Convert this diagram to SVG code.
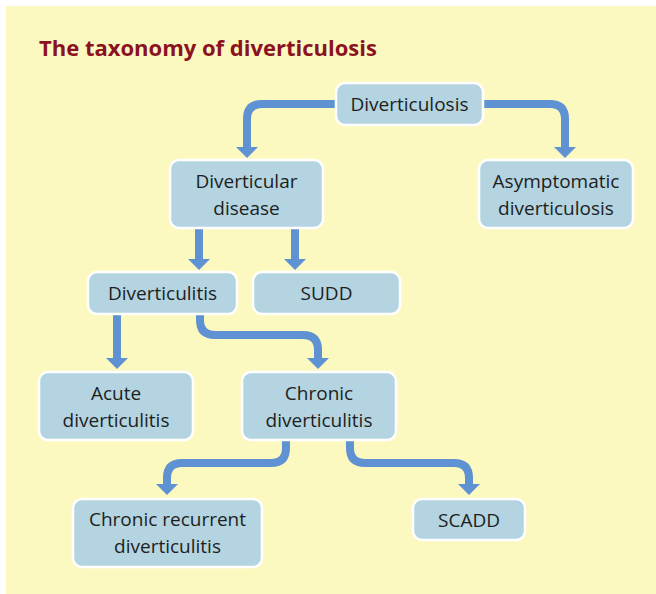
<svg xmlns="http://www.w3.org/2000/svg" width="656" height="594" viewBox="0 0 656 594">
<style>
.bg{fill:#fcf9c0}
.box{fill:#b3d4e0;stroke:#ffffff;stroke-width:2.5}
.t{font-family:"Open Sans","Noto Sans","Liberation Sans",sans-serif;font-size:19px;fill:#1e1e1e;text-anchor:middle}
.title{font-family:"Open Sans","Noto Sans","Liberation Sans",sans-serif;font-size:22px;font-weight:bold;fill:#8b1222}
.ln{fill:none;stroke:#5e92d3;stroke-width:8}
.hd{fill:#5e92d3}
</style>
<rect class="bg" x="6" y="6" width="650" height="588"/>
<text class="title" x="39" y="56">The taxonomy of diverticulosis</text>
<g id="connectors">
<path class="ln" d="M336,104 H262 Q247,104 247,119 V148"/>
<polygon class="hd" points="236,147 258,147 247,158"/>
<path class="ln" d="M483,104 H550 Q565,104 565,119 V148"/>
<polygon class="hd" points="554,147 576,147 565,158"/>
<path class="ln" d="M199,228 V260"/>
<polygon class="hd" points="188,259 210,259 199,270"/>
<path class="ln" d="M295,228 V260"/>
<polygon class="hd" points="284,259 306,259 295,270"/>
<path class="ln" d="M117,313 V359"/>
<polygon class="hd" points="106,358 128,358 117,369"/>
<path class="ln" d="M200,313 V320 Q200,335 215,335 H303 Q318,335 318,350 V359"/>
<polygon class="hd" points="307,358 329,358 318,369"/>
<path class="ln" d="M286,440 V448 Q286,463 271,463 H182 Q167,463 167,478 V485"/>
<polygon class="hd" points="156,484 178,484 167,495"/>
<path class="ln" d="M350,440 V448 Q350,463 365,463 H454 Q469,463 469,478 V485"/>
<polygon class="hd" points="458,484 480,484 469,495"/>
</g>
<g id="diverticulosis">
<rect class="box" x="336" y="83" width="147" height="42" rx="9"/>
<text class="t" x="409.5" y="111">Diverticulosis</text>
</g>
<g id="diverticular-disease">
<rect class="box" x="170" y="160" width="153" height="68" rx="9"/>
<text class="t" x="246.5" y="188">Diverticular</text>
<text class="t" x="246.5" y="215">disease</text>
</g>
<g id="asymptomatic">
<rect class="box" x="479" y="160" width="154" height="68" rx="9"/>
<text class="t" x="556" y="188">Asymptomatic</text>
<text class="t" x="556" y="215">diverticulosis</text>
</g>
<g id="diverticulitis">
<rect class="box" x="88" y="272" width="149" height="42" rx="9"/>
<text class="t" x="162.5" y="300">Diverticulitis</text>
</g>
<g id="sudd">
<rect class="box" x="253" y="272" width="147" height="42" rx="9"/>
<text class="t" x="326.5" y="300">SUDD</text>
</g>
<g id="acute">
<rect class="box" x="39" y="372" width="154" height="68" rx="9"/>
<text class="t" x="116" y="400">Acute</text>
<text class="t" x="116" y="427">diverticulitis</text>
</g>
<g id="chronic">
<rect class="box" x="242" y="372" width="154" height="68" rx="9"/>
<text class="t" x="319" y="400">Chronic</text>
<text class="t" x="319" y="427">diverticulitis</text>
</g>
<g id="chronic-recurrent">
<rect class="box" x="73" y="499" width="189" height="68" rx="9"/>
<text class="t" x="167.5" y="526">Chronic recurrent</text>
<text class="t" x="167.5" y="553">diverticulitis</text>
</g>
<g id="scadd">
<rect class="box" x="413" y="499" width="112" height="41" rx="9"/>
<text class="t" x="469" y="527">SCADD</text>
</g>
</svg>
